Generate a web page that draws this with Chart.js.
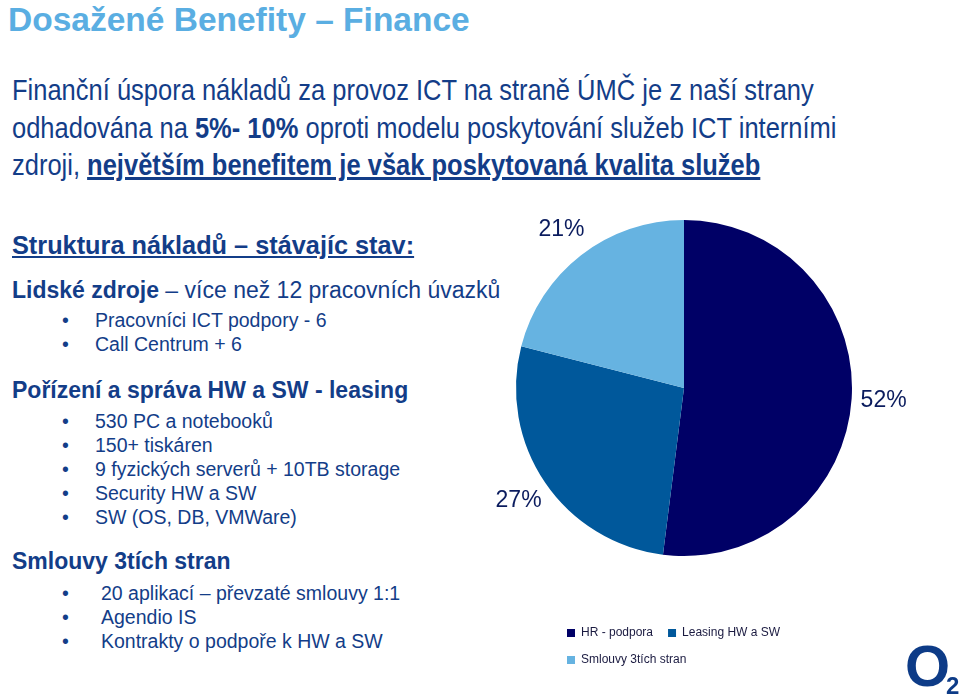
<!DOCTYPE html>
<html lang="cs">
<head>
<meta charset="utf-8">
<title>Dosažené Benefity – Finance</title>
<script src="https://cdn.jsdelivr.net/npm/chart.js@4.4.1/dist/chart.umd.min.js"></script>
<style>
  html, body { margin: 0; padding: 0; background: #fff; }
  body {
    width: 959px; height: 698px; position: relative; overflow: hidden;
    font-family: "Liberation Sans", Arial, sans-serif; color: #133d88;
  }
  .t { position: absolute; white-space: nowrap; }
  .title { left: 8px; top: 0px; font-size: 33.5px; line-height: 40px; font-weight: bold; color: #5aaee2; }
  .intro { left: 12px; font-size: 30px; line-height: 36px; transform: scaleX(0.85); transform-origin: 0 50%; }
  .head { left: 12px; font-size: 25.3px; line-height: 30px; font-weight: bold; text-decoration: underline; }
  .sub { left: 12px; font-size: 23px; line-height: 28px; }
  .item { font-size: 19.5px; line-height: 24px; }
  .dot { left: 62px; }
  #pie { position: absolute; left: 485px; top: 164px; }
  .logo { position: absolute; left: 905px; top: 637px; font-weight: bold; color: #0d3b87; }
  .logo .o { font-size: 58px; line-height: 58px; }
  .logo .two { font-size: 24px; position: absolute; left: 41px; top: 35px; }
</style>
</head>
<body>
<div class="t title">Dosažené Benefity – Finance</div>

<div class="t intro" style="top:72px">Finanční úspora nákladů za provoz ICT na straně ÚMČ je z naší strany</div>
<div class="t intro" style="top:110px">odhadována na <b>5%- 10%</b> oproti modelu poskytování služeb ICT interními</div>
<div class="t intro" style="top:147px">zdroji, <b><u>největším benefitem je však poskytovaná kvalita služeb</u></b></div>

<div class="t head" style="top:230px">Struktura nákladů – stávajíc stav:</div>

<div class="t sub" style="top:276px"><b>Lidské zdroje</b> – více než 12 pracovních úvazků</div>
<div class="t item dot" style="top:308px">•</div><div class="t item" style="left:95px;top:308px">Pracovníci ICT podpory - 6</div>
<div class="t item dot" style="top:332px">•</div><div class="t item" style="left:95px;top:332px">Call Centrum + 6</div>

<div class="t sub" style="top:376px"><b>Pořízení a správa HW a SW - leasing</b></div>
<div class="t item dot" style="top:409px">•</div><div class="t item" style="left:95px;top:409px">530 PC a notebooků</div>
<div class="t item dot" style="top:433px">•</div><div class="t item" style="left:95px;top:433px">150+ tiskáren</div>
<div class="t item dot" style="top:457px">•</div><div class="t item" style="left:95px;top:457px">9 fyzických serverů + 10TB storage</div>
<div class="t item dot" style="top:481px">•</div><div class="t item" style="left:95px;top:481px">Security HW a SW</div>
<div class="t item dot" style="top:505px">•</div><div class="t item" style="left:95px;top:505px">SW (OS, DB, VMWare)</div>

<div class="t sub" style="top:547px"><b>Smlouvy 3tích stran</b></div>
<div class="t item dot" style="top:581px">•</div><div class="t item" style="left:101px;top:581px">20 aplikací – převzaté smlouvy 1:1</div>
<div class="t item dot" style="top:605px">•</div><div class="t item" style="left:101px;top:605px">Agendio IS</div>
<div class="t item dot" style="top:629px">•</div><div class="t item" style="left:101px;top:629px">Kontrakty o podpoře k HW a SW</div>

<canvas id="pie" width="445" height="512"></canvas>

<div class="logo"><span class="o">O</span><span class="two">2</span></div>

<script>
// cost structure, current state (share of costs in %)
const categories = ["HR - podpora", "Leasing HW a SW", "Smlouvy 3tích stran"];
const shares = [52, 27, 21];
const sliceColors = ["#000066", "#00589b", "#66b3e1"];

// percentage labels just outside each slice
const outsideLabels = {
  id: "outsideLabels",
  afterDatasetsDraw(chart) {
    const ctx = chart.ctx;
    const meta = chart.getDatasetMeta(0);
    ctx.save();
    ctx.font = '23px "Liberation Sans", Arial, sans-serif';
    ctx.fillStyle = "#0b1c5e";
    ctx.textAlign = "center";
    ctx.textBaseline = "middle";
    meta.data.forEach((arc, i) => {
      const { x, y, startAngle, endAngle, outerRadius } = arc.getProps(
        ["x", "y", "startAngle", "endAngle", "outerRadius"],
        true
      );
      const mid = (startAngle + endAngle) / 2;
      const r = outerRadius + 32;
      ctx.fillText(shares[i] + "%", x + Math.cos(mid) * r, y + Math.sin(mid) * r);
    });
    ctx.restore();
  },
};

new Chart(document.getElementById("pie"), {
  type: "pie",
  data: {
    labels: categories,
    datasets: [
      {
        data: shares,
        backgroundColor: sliceColors,
        borderWidth: 0,
        clip: false,
      },
    ],
  },
  options: {
    responsive: false,
    animation: false,
    events: [],
    radius: 168,
    layout: { padding: { left: 67, right: 114, top: 0, bottom: 0 } },
    plugins: {
      legend: {
        position: "bottom",
        align: "start",
        labels: {
          boxWidth: 8,
          boxHeight: 8,
          padding: 15,
          color: "#1a1a40",
          font: { size: 12, family: "Liberation Sans" },
        },
      },
      tooltip: { enabled: false },
    },
  },
  plugins: [outsideLabels],
});
</script>
</body>
</html>
